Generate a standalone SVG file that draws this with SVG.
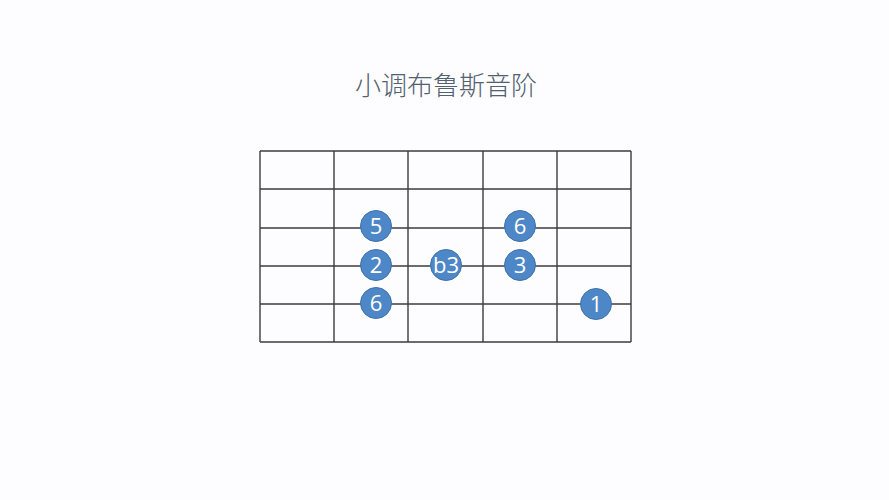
<svg xmlns="http://www.w3.org/2000/svg" width="889" height="500" viewBox="0 0 889 500">
<style>
.grid line{stroke:#3c3c3c;stroke-width:1.4}
.dot circle{fill:#4e87c7;stroke:#3f72aa;stroke-width:1}
.dot text{fill:#ffffff;font-family:"Open Sans","Liberation Sans",sans-serif;font-size:22px;text-anchor:middle}
.title{fill:#51616f;font-family:"Noto Sans CJK SC",sans-serif;font-size:26px;font-weight:300;text-anchor:middle}
</style>
<rect width="889" height="500" fill="#fdfcfe"/>
<text class="title" x="446" y="95">小调布鲁斯音阶</text>
<g id="connectors" class="grid">
<line x1="260" y1="151" x2="631" y2="151"/>
<line x1="260" y1="189" x2="631" y2="189"/>
<line x1="260" y1="228" x2="631" y2="228"/>
<line x1="260" y1="266" x2="631" y2="266"/>
<line x1="260" y1="304" x2="631" y2="304"/>
<line x1="260" y1="342" x2="631" y2="342"/>
<line x1="260" y1="151" x2="260" y2="342"/>
<line x1="334" y1="151" x2="334" y2="342"/>
<line x1="408" y1="151" x2="408" y2="342"/>
<line x1="483" y1="151" x2="483" y2="342"/>
<line x1="557" y1="151" x2="557" y2="342"/>
<line x1="631" y1="151" x2="631" y2="342"/>
</g>
<g id="n5" class="dot"><circle cx="376" cy="226" r="15.5"/><text x="376" y="234">5</text></g>
<g id="n2" class="dot"><circle cx="376" cy="265" r="15.5"/><text x="376" y="273">2</text></g>
<g id="n6a" class="dot"><circle cx="376" cy="303" r="15.5"/><text x="376" y="311">6</text></g>
<g id="nb3" class="dot"><circle cx="446" cy="265" r="15.5"/><text x="446" y="273">b3</text></g>
<g id="n6b" class="dot"><circle cx="520" cy="226" r="15.5"/><text x="520" y="234">6</text></g>
<g id="n3" class="dot"><circle cx="520" cy="265" r="15.5"/><text x="520" y="273">3</text></g>
<g id="n1" class="dot"><circle cx="596" cy="304" r="15.5"/><text x="596" y="312">1</text></g>
</svg>
